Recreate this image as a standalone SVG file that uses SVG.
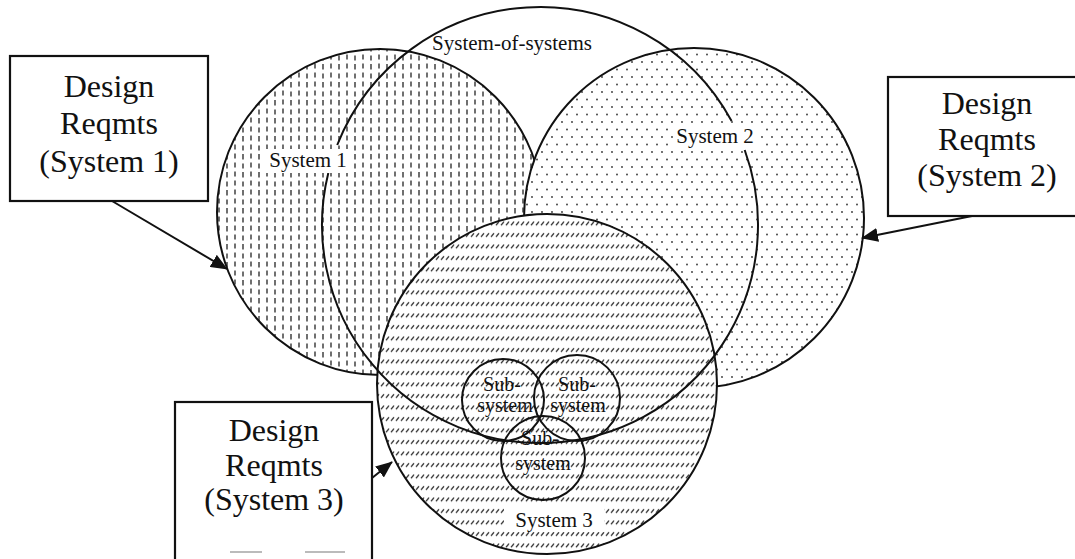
<svg xmlns="http://www.w3.org/2000/svg" width="1075" height="559" viewBox="0 0 1075 559">
<style>
.ol{fill:none;stroke:#111;stroke-width:2}
.s1{fill:url(#pV);stroke:#111;stroke-width:2}
.s2{fill:url(#pD);stroke:#111;stroke-width:2}
.s3{fill:url(#pH);stroke:#111;stroke-width:2}
.box{fill:#fff;stroke:#111;stroke-width:2.2}
.bt{font-family:"Liberation Serif","Times New Roman",serif;font-size:32px;fill:#111;text-anchor:middle}
.lb{font-family:"Liberation Serif","Times New Roman",serif;font-size:21px;fill:#111;text-anchor:middle}
.sb{font-family:"Liberation Serif","Times New Roman",serif;font-size:20px;fill:#111;text-anchor:middle}
.con{stroke:#111;stroke-width:2;fill:none}
.dv{stroke:#222;stroke-width:1.3}
</style>
<defs>
<pattern id="pV" width="16" height="18" patternUnits="userSpaceOnUse">
<rect width="16" height="18" fill="#fff"/>
<line class="dv" x1="3" y1="1.5" x2="3" y2="6.5"/>
<line class="dv" x1="11" y1="0.5" x2="11" y2="5.5"/>
<line class="dv" x1="3" y1="10" x2="3" y2="15.5"/>
<line class="dv" x1="11" y1="9.5" x2="11" y2="14.5"/>
</pattern>
<pattern id="pD" width="10" height="15" patternUnits="userSpaceOnUse">
<rect width="10" height="15" fill="#fff"/>
<circle cx="2" cy="2" r="0.9" fill="#333"/>
<circle cx="7" cy="9.5" r="0.9" fill="#333"/>
</pattern>
<pattern id="pH" width="5" height="11.5" patternUnits="userSpaceOnUse">
<rect width="5" height="11.5" fill="#fff"/>
<line x1="1" y1="6.8" x2="4" y2="3.2" stroke="#222" stroke-width="1.3"/>
</pattern>
<marker id="ah" markerWidth="18" markerHeight="14" refX="16" refY="7" orient="auto" markerUnits="userSpaceOnUse">
<path d="M0,0 L17,7 L0,14 z" fill="#111"/>
</marker>
</defs>

<g id="system1">
<circle cx="380" cy="212" r="163" class="s1"/>
</g>
<g id="system2">
<circle cx="694" cy="218" r="170" class="s2"/>
</g>
<g id="system3">
<circle cx="547" cy="384" r="170" class="s3"/>
</g>
<g id="system-of-systems">
<path class="ol" d="M337.2,145 A218,218 0 0 1 731.6,121"/>
<path class="ol" d="M744.7,150 A218,218 0 1 1 328.3,173"/>
<text class="lb" x="512" y="50">System-of-systems</text>
</g>
<g id="subsystem1">
<circle cx="503" cy="400" r="41" class="ol"/>
<text class="sb" x="502" y="391">Sub-</text>
<text class="sb" x="505" y="412">system</text>
</g>
<g id="subsystem2">
<circle cx="577" cy="398" r="43" class="ol"/>
<text class="sb" x="577" y="391">Sub-</text>
<text class="sb" x="578" y="412">system</text>
</g>
<g id="subsystem3">
<circle cx="543" cy="458" r="42" class="ol"/>
<text class="sb" x="540" y="445">Sub-</text>
<text class="sb" x="543" y="470">system</text>
</g>
<g id="labels">
<rect x="266" y="149" width="84" height="24" fill="#fff"/>
<text class="lb" x="308" y="167">System 1</text>
<rect x="673" y="125" width="86" height="24" fill="#fff"/>
<text class="lb" x="715" y="143">System 2</text>
<rect x="504" y="504" width="100" height="28" fill="#fff"/>
<text class="lb" x="554" y="527">System 3</text>
</g>

<g id="box1">
<rect class="box" x="10" y="56" width="198" height="145"/>
<text class="bt" x="109" y="97">Design</text>
<text class="bt" x="109" y="134">Reqmts</text>
<text class="bt" x="109" y="172">(System 1)</text>
</g>
<g id="box2">
<rect class="box" x="888" y="77" width="200" height="139"/>
<text class="bt" x="987" y="114">Design</text>
<text class="bt" x="987" y="150">Reqmts</text>
<text class="bt" x="987" y="186">(System 2)</text>
</g>
<g id="box3">
<rect class="box" x="175" y="402" width="197" height="180"/>
<text class="bt" x="274" y="441">Design</text>
<text class="bt" x="274" y="476">Reqmts</text>
<text class="bt" x="274" y="510">(System 3)</text>
<line x1="230" y1="552" x2="262" y2="552" stroke="#bbb" stroke-width="2"/>
<line x1="305" y1="552" x2="345" y2="552" stroke="#bbb" stroke-width="2"/>
</g>

<g id="connectors">
<line class="con" x1="112" y1="201" x2="227" y2="269" marker-end="url(#ah)"/>
<line class="con" x1="972" y1="216" x2="862" y2="238" marker-end="url(#ah)"/>
<line class="con" x1="372" y1="478" x2="392" y2="462" marker-end="url(#ah)"/>
</g>
</svg>
